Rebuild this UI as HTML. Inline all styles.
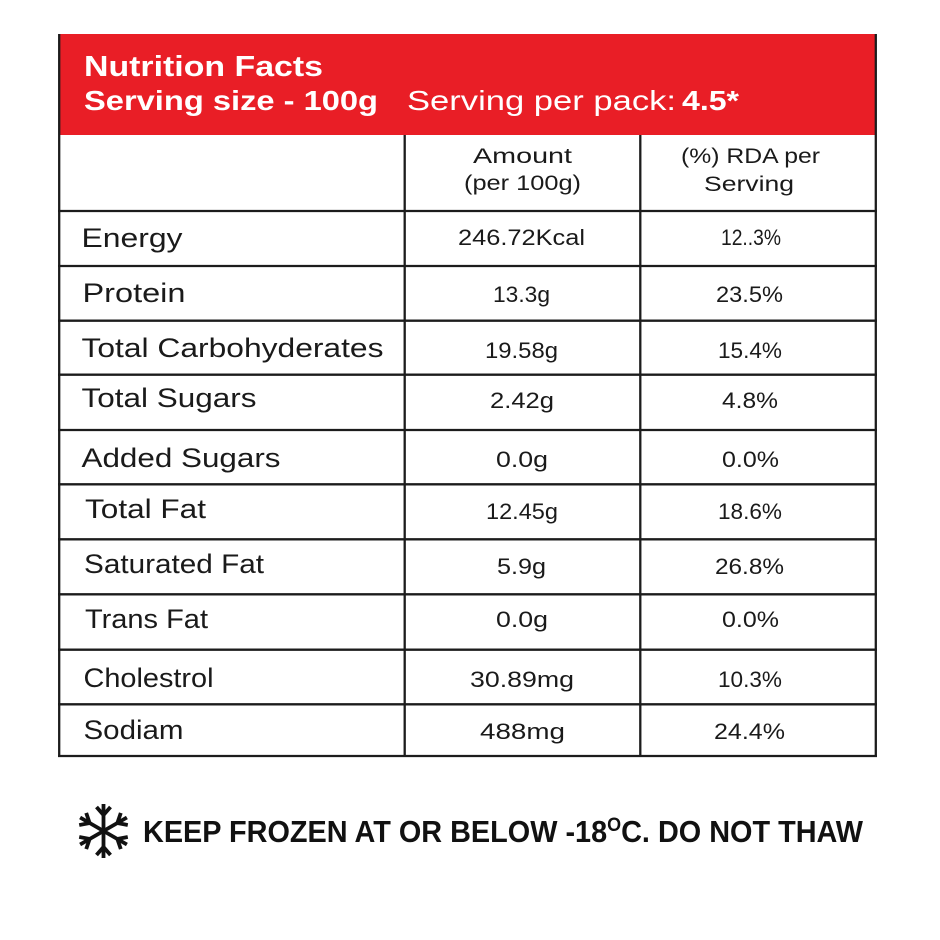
<!DOCTYPE html>
<html>
<head>
<meta charset="utf-8">
<style>
  html, body { margin: 0; padding: 0; background: #ffffff; }
  svg { display: block; }
  .row { font-family: "Liberation Sans", sans-serif; font-size: 27px; fill: #1a1a1a; }
  .val { font-family: "Liberation Sans", sans-serif; font-size: 22.5px; fill: #1a1a1a; }
  .hd  { font-family: "Liberation Sans", sans-serif; font-size: 21px; fill: #1a1a1a; }
  .red { font-family: "Liberation Sans", sans-serif; fill: #ffffff; }
  .ft  { font-family: "Liberation Sans", sans-serif; font-weight: bold; font-size: 30.5px; fill: #111111; }
</style>
</head>
<body>
<svg width="940" height="940" viewBox="0 0 940 940" xmlns="http://www.w3.org/2000/svg">
  <rect x="0" y="0" width="940" height="940" fill="#ffffff"/>

  <!-- red header -->
  <rect x="59" y="34" width="817" height="101" fill="#e91e26"/>
  <text class="red" x="84" y="76" font-size="29" font-weight="bold" textLength="239" lengthAdjust="spacingAndGlyphs">Nutrition Facts</text>
  <text class="red" x="84" y="110" font-size="28" font-weight="bold" textLength="294" lengthAdjust="spacingAndGlyphs">Serving size - 100g</text>
  <text class="red" x="407" y="110" font-size="28" textLength="269" lengthAdjust="spacingAndGlyphs">Serving per pack:</text>
  <text class="red" x="682" y="110" font-size="28" font-weight="bold" textLength="57" lengthAdjust="spacingAndGlyphs">4.5*</text>

  <!-- table lines -->
  <g stroke="#1c1c1c" stroke-width="2.3" fill="none">
    <line x1="59.2" y1="34" x2="59.2" y2="757"/>
    <line x1="875.8" y1="34" x2="875.8" y2="757"/>
    <line x1="404.7" y1="135" x2="404.7" y2="757"/>
    <line x1="640.3" y1="135" x2="640.3" y2="757"/>
    <line x1="58" y1="211" x2="877" y2="211"/>
    <line x1="58" y1="266" x2="877" y2="266"/>
    <line x1="58" y1="320.7" x2="877" y2="320.7"/>
    <line x1="58" y1="374.7" x2="877" y2="374.7"/>
    <line x1="58" y1="430" x2="877" y2="430"/>
    <line x1="58" y1="484.3" x2="877" y2="484.3"/>
    <line x1="58" y1="539.3" x2="877" y2="539.3"/>
    <line x1="58" y1="594.3" x2="877" y2="594.3"/>
    <line x1="58" y1="649.7" x2="877" y2="649.7"/>
    <line x1="58" y1="704.3" x2="877" y2="704.3"/>
    <line x1="58" y1="756" x2="877" y2="756"/>
  </g>

  <!-- column headers -->
  <text class="hd" x="473" y="163" textLength="99" lengthAdjust="spacingAndGlyphs">Amount</text>
  <text class="hd" x="464" y="190" textLength="117" lengthAdjust="spacingAndGlyphs">(per 100g)</text>
  <text class="hd" x="681" y="163" textLength="139" lengthAdjust="spacingAndGlyphs">(%) RDA per</text>
  <text class="hd" x="704" y="191" textLength="90" lengthAdjust="spacingAndGlyphs">Serving</text>

  <!-- row labels -->
  <text class="row" x="81.5" y="247" textLength="101" lengthAdjust="spacingAndGlyphs">Energy</text>
  <text class="row" x="82.5" y="302" textLength="103" lengthAdjust="spacingAndGlyphs">Protein</text>
  <text class="row" x="81.5" y="357" textLength="302" lengthAdjust="spacingAndGlyphs">Total Carbohyderates</text>
  <text class="row" x="81.5" y="407" textLength="175" lengthAdjust="spacingAndGlyphs">Total Sugars</text>
  <text class="row" x="81.5" y="467" textLength="199" lengthAdjust="spacingAndGlyphs">Added Sugars</text>
  <text class="row" x="85" y="518" textLength="121" lengthAdjust="spacingAndGlyphs">Total Fat</text>
  <text class="row" x="84" y="573" textLength="180" lengthAdjust="spacingAndGlyphs">Saturated Fat</text>
  <text class="row" x="85" y="628" textLength="123" lengthAdjust="spacingAndGlyphs">Trans Fat</text>
  <text class="row" x="83.5" y="687" textLength="130" lengthAdjust="spacingAndGlyphs">Cholestrol</text>
  <text class="row" x="83.5" y="739" textLength="100" lengthAdjust="spacingAndGlyphs">Sodiam</text>

  <!-- amounts -->
  <text class="val" x="458" y="245" textLength="127" lengthAdjust="spacingAndGlyphs">246.72Kcal</text>
  <text class="val" x="493" y="302" textLength="57" lengthAdjust="spacingAndGlyphs">13.3g</text>
  <text class="val" x="485" y="358" textLength="73" lengthAdjust="spacingAndGlyphs">19.58g</text>
  <text class="val" x="490" y="408" textLength="64" lengthAdjust="spacingAndGlyphs">2.42g</text>
  <text class="val" x="496" y="467" textLength="52" lengthAdjust="spacingAndGlyphs">0.0g</text>
  <text class="val" x="486" y="519" textLength="72" lengthAdjust="spacingAndGlyphs">12.45g</text>
  <text class="val" x="497" y="574" textLength="49" lengthAdjust="spacingAndGlyphs">5.9g</text>
  <text class="val" x="496" y="627" textLength="52" lengthAdjust="spacingAndGlyphs">0.0g</text>
  <text class="val" x="470" y="687" textLength="104" lengthAdjust="spacingAndGlyphs">30.89mg</text>
  <text class="val" x="480" y="739" textLength="85" lengthAdjust="spacingAndGlyphs">488mg</text>

  <!-- RDA -->
  <text class="val" x="721" y="245" textLength="60" lengthAdjust="spacingAndGlyphs">12..3%</text>
  <text class="val" x="716" y="302" textLength="67" lengthAdjust="spacingAndGlyphs">23.5%</text>
  <text class="val" x="718" y="358" textLength="64" lengthAdjust="spacingAndGlyphs">15.4%</text>
  <text class="val" x="722" y="408" textLength="56" lengthAdjust="spacingAndGlyphs">4.8%</text>
  <text class="val" x="722" y="467" textLength="57" lengthAdjust="spacingAndGlyphs">0.0%</text>
  <text class="val" x="718" y="519" textLength="64" lengthAdjust="spacingAndGlyphs">18.6%</text>
  <text class="val" x="715" y="574" textLength="69" lengthAdjust="spacingAndGlyphs">26.8%</text>
  <text class="val" x="722" y="627" textLength="57" lengthAdjust="spacingAndGlyphs">0.0%</text>
  <text class="val" x="718" y="687" textLength="64" lengthAdjust="spacingAndGlyphs">10.3%</text>
  <text class="val" x="714" y="739" textLength="71" lengthAdjust="spacingAndGlyphs">24.4%</text>

  <!-- snowflake -->
  <g transform="translate(103.5,831)" stroke="#111111" stroke-width="3.8" stroke-linecap="butt" stroke-linejoin="miter" fill="none">
    <g><line x1="0" y1="0" x2="0" y2="-27"/><polyline points="-7,-24 0,-16 7,-24"/></g>
    <g transform="rotate(60)"><line x1="0" y1="0" x2="0" y2="-27"/><polyline points="-7,-24 0,-16 7,-24"/></g>
    <g transform="rotate(120)"><line x1="0" y1="0" x2="0" y2="-27"/><polyline points="-7,-24 0,-16 7,-24"/></g>
    <g transform="rotate(180)"><line x1="0" y1="0" x2="0" y2="-27"/><polyline points="-7,-24 0,-16 7,-24"/></g>
    <g transform="rotate(240)"><line x1="0" y1="0" x2="0" y2="-27"/><polyline points="-7,-24 0,-16 7,-24"/></g>
    <g transform="rotate(300)"><line x1="0" y1="0" x2="0" y2="-27"/><polyline points="-7,-24 0,-16 7,-24"/></g>
  </g>

  <!-- footer -->
  <text class="ft" x="143" y="842" textLength="720" lengthAdjust="spacingAndGlyphs">KEEP FROZEN AT OR BELOW -18<tspan font-size="19" dy="-11">O</tspan><tspan dy="11">C. DO NOT THAW</tspan></text>
</svg>
</body>
</html>
